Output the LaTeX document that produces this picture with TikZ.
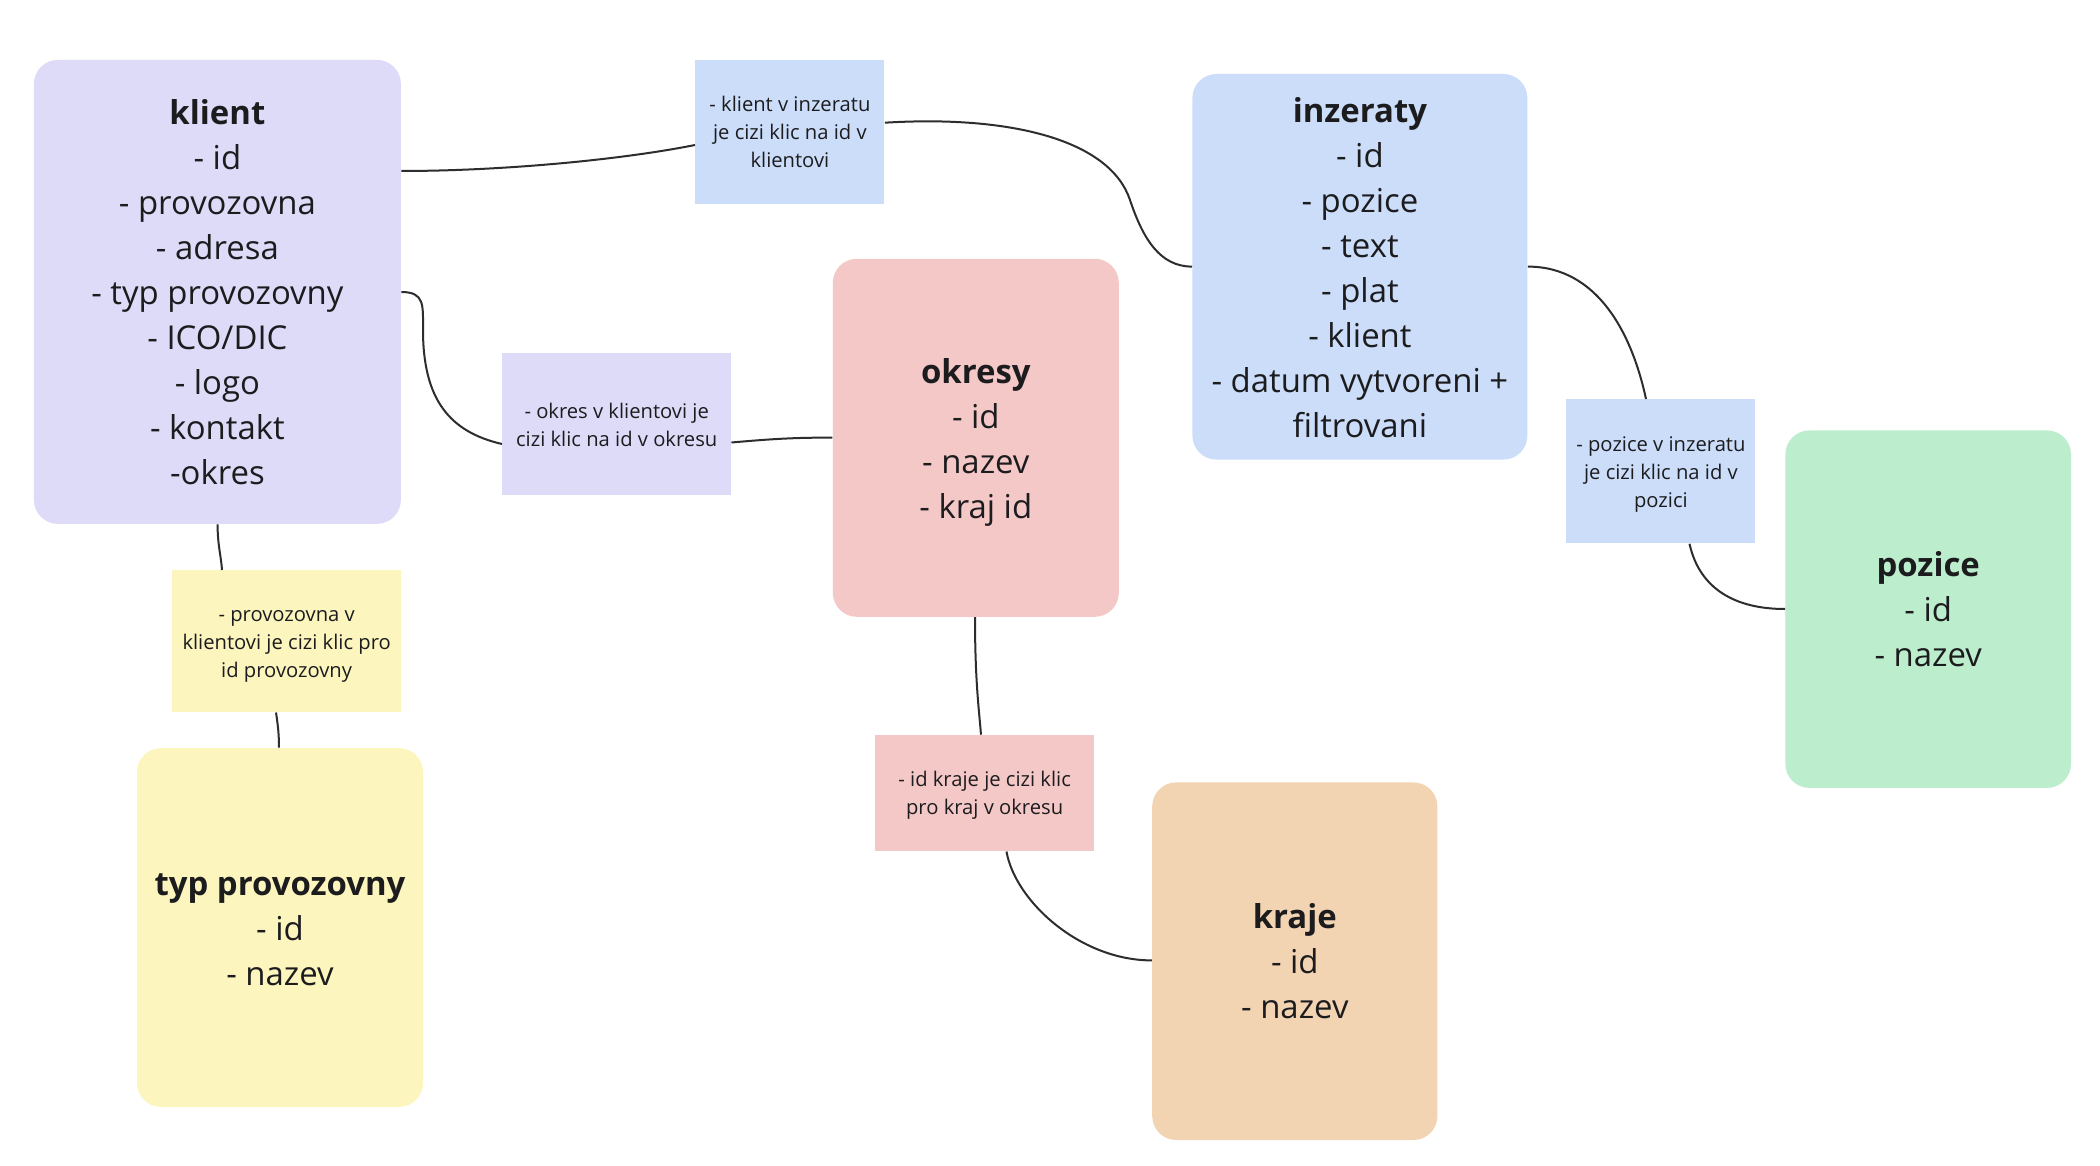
\documentclass[tikz,border=0pt]{standalone}
\usepackage{fontspec}
\setmainfont{Open Sans}
\usetikzlibrary{calc}
\definecolor{cklient}{RGB}{222,219,249}
\definecolor{cblue}{RGB}{204,221,250}
\definecolor{cred}{RGB}{245,200,200}
\definecolor{cgreen}{RGB}{188,238,205}
\definecolor{cyellow}{RGB}{252,245,190}
\definecolor{corange}{RGB}{242,212,178}
\definecolor{ctext}{RGB}{28,28,30}
\definecolor{cline}{RGB}{45,45,48}
\newcommand{\bgst}{\rule[-4.87pt]{0pt}{22.5pt}}
\newcommand{\smst}{\rule[-3.07pt]{0pt}{14pt}}
\tikzset{
  sz/.style 2 args={minimum width=#1*0.5pt, minimum height=#2*0.5pt},
  entity/.style={anchor=north west, inner sep=0pt, rounded corners=12pt, align=center,
    text=ctext, font=\fontsize{16.45pt}{22.5pt}\selectfont},
  note/.style={anchor=north west, inner sep=0pt, align=center,
    text=ctext, font=\fontsize{10.1pt}{14pt}\selectfont},
  link/.style={draw=cline, line width=1pt}
}
\begin{document}
\begin{tikzpicture}[x=0.5pt,y=-0.5pt]
\useasboundingbox[fill=white] (0,0) rectangle (2100,1166);
% entities
\node[entity, sz={367}{464}, fill=cklient] (klient) at (33.5,59.5)
  {\bgst\textbf{klient}\\- id\\- provozovna\\- adresa\\- typ provozovny\\- ICO/DIC\\- logo\\- kontakt\\-okres\bgst};
\node[entity, sz={335}{385.6}, fill=cblue] (inz) at (1192,73.6)
  {\bgst\textbf{inzeraty}\\- id\\- pozice\\- text\\- plat\\- klient\\- datum vytvoreni +\\filtrovani\bgst};
\node[entity, sz={286}{358}, fill=cred] (okr) at (832.4,258.4)
  {\bgst\textbf{okresy}\\- id\\- nazev\\- kraj id\bgst};
\node[entity, sz={285.6}{357.5}, fill=cgreen] (poz) at (1785,430)
  {\bgst\textbf{pozice}\\- id\\- nazev\bgst};
\node[entity, sz={286}{358.8}, fill=cyellow] (typ) at (136.6,747.7)
  {\bgst\textbf{typ provozovny}\\- id\\- nazev\bgst};
\node[entity, sz={285.2}{357.6}, fill=corange] (kra) at (1151.8,782)
  {\bgst\textbf{kraje}\\- id\\- nazev\bgst};
% notes
\node[note, sz={189}{144.3}, fill=cblue] (l1) at (695,59.5)
  {\smst- klient v inzeratu\\je cizi klic na id v\\klientovi\smst};
\node[note, sz={228.6}{141.5}, fill=cklient] (l2) at (502,353)
  {\smst- okres v klientovi je\\cizi klic na id v okresu\smst};
\node[note, sz={189}{144}, fill=cblue] (l3) at (1566,399)
  {\smst- pozice v inzeratu\\je cizi klic na id v\\pozici\smst};
\node[note, sz={228.5}{141.7}, fill=cyellow] (l4) at (172,570)
  {\smst- provozovna v\\klientovi je cizi klic pro\\id provozovny\smst};
\node[note, sz={218.5}{116}, fill=cred] (l5) at (875,734.7)
  {\smst- id kraje je cizi klic\\pro kraj v okresu\smst};
% helper coordinates
\coordinate (m2) at (1130,200);
\coordinate (m5) at (423,330);
% connectors
\draw[link] ($(klient.north east)+(0,111.5)$) .. controls +(99.5,0) and +(-75,15) .. ($(l1.north west)+(0,85.5)$);
\draw[link] ($(l1.north east)+(0,63.2)$) .. controls +(126,-7.7) and +(-20,-60) .. (m2)
  .. controls +(13,39) and +(-32,0) .. ($(inz.north west)+(0,193)$);
\draw[link] ($(inz.north east)+(0,193)$) .. controls +(70,0) and +(-14,-65) .. ($(l3.north west)+(80,0)$);
\draw[link] ($(l3.south west)+(123.5,0)$) .. controls +(10,45) and +(-50,0) .. ($(poz.north west)+(0,179)$);
\draw[link] ($(klient.north east)+(0,232.5)$) .. controls +(23.5,0) and +(0,-25) .. (m5)
  .. controls +(0,70) and +(-52,-12) .. ($(l2.north west)+(0,91)$);
\draw[link] ($(l2.north east)+(0,89.5)$) .. controls +(40,-3.5) and +(-40,0) .. ($(okr.north west)+(0,179.2)$);
\draw[link] ($(klient.south west)+(184.1,0)$) .. controls +(0,21.5) and +(-1,-15) .. ($(l4.north west)+(50,0)$);
\draw[link] ($(l4.south west)+(104,0)$) .. controls +(2,13) and +(0,-12.7) .. ($(typ.north west)+(142.4,0)$);
\draw[link] ($(okr.south west)+(142.6,0)$) .. controls +(0,63.5) and +(-2,-25) .. ($(l5.north west)+(106,0)$);
\draw[link] ($(l5.south west)+(131.5,0)$) .. controls +(8.5,49.3) and +(-72,0) .. ($(kra.north west)+(0,178.4)$);
\end{tikzpicture}
\end{document}
